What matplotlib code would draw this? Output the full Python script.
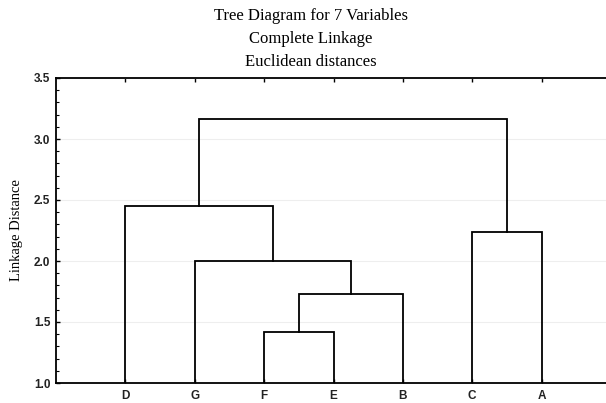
import numpy as np
import matplotlib.pyplot as plt
from matplotlib.ticker import MultipleLocator

# leaf order along the x axis
leaves = ["D", "G", "F", "E", "B", "C", "A"]

# merges: (left cluster, right cluster, linkage distance)
merge_left = ["F", "FE", "G", "D", "C", "DGFEB"]
merge_right = ["E", "B", "FEB", "GFEB", "A", "CA"]
merge_height = [1.414, 1.732, 2.0, 2.449, 2.236, 3.162]

yticks = [1.0, 1.5, 2.0, 2.5, 3.0, 3.5]

fig = plt.figure(figsize=(6.06, 4.03), dpi=100)
# right edge of the frame sits just outside the picture, as in the source
ax = fig.add_axes([56 / 606, 20 / 403, 555 / 606, 305 / 403])

pos = {name: i + 1 for i, name in enumerate(leaves)}
top = {name: 1.0 for name in leaves}

for l, r, h in zip(merge_left, merge_right, merge_height):
    xl, xr = pos[l], pos[r]
    ax.plot([xl, xl, xr, xr], [top[l], h, h, top[r]], color="black",
            lw=1.3, solid_joinstyle="miter", zorder=3)
    name = l + r
    pos[name] = (xl + xr) / 2
    top[name] = h

ax.set_xlim(0, len(leaves) + 1)
ax.set_ylim(1.0, 3.5)

ax.set_xticks(range(1, len(leaves) + 1))
ax.set_xticklabels(leaves, family="Liberation Sans", fontsize=8.5,
                   fontweight="bold", color="#222222")
ax.tick_params(axis="x", direction="in", length=3, width=1, top=True,
               bottom=True, pad=5)
ax.set_yticks(yticks)
ax.set_yticklabels([f"{v:.1f}" for v in yticks], family="Liberation Sans",
                   fontsize=8.5, fontweight="bold", color="#222222")
ax.yaxis.set_minor_locator(MultipleLocator(0.1))
ax.tick_params(axis="y", which="major", direction="in", length=3, width=1,
               pad=4)
ax.tick_params(axis="y", which="minor", direction="in", length=2, width=0.8)

ax.grid(axis="y", color="#eeeeee", lw=0.8, zorder=0)
for s in ax.spines.values():
    s.set_linewidth(1.3)

ax.set_ylabel("Linkage Distance", family="Liberation Serif", fontsize=10.5,
              labelpad=8)

titles = ["Tree Diagram for 7 Variables", "Complete Linkage",
          "Euclidean distances"]
for i, t in enumerate(titles):
    fig.text(311 / 606, 1 - (15.5 + 23.5 * i) / 403, t, ha="center",
             va="center", family="Liberation Serif", fontsize=12)

fig.savefig("out.png", dpi=100)
